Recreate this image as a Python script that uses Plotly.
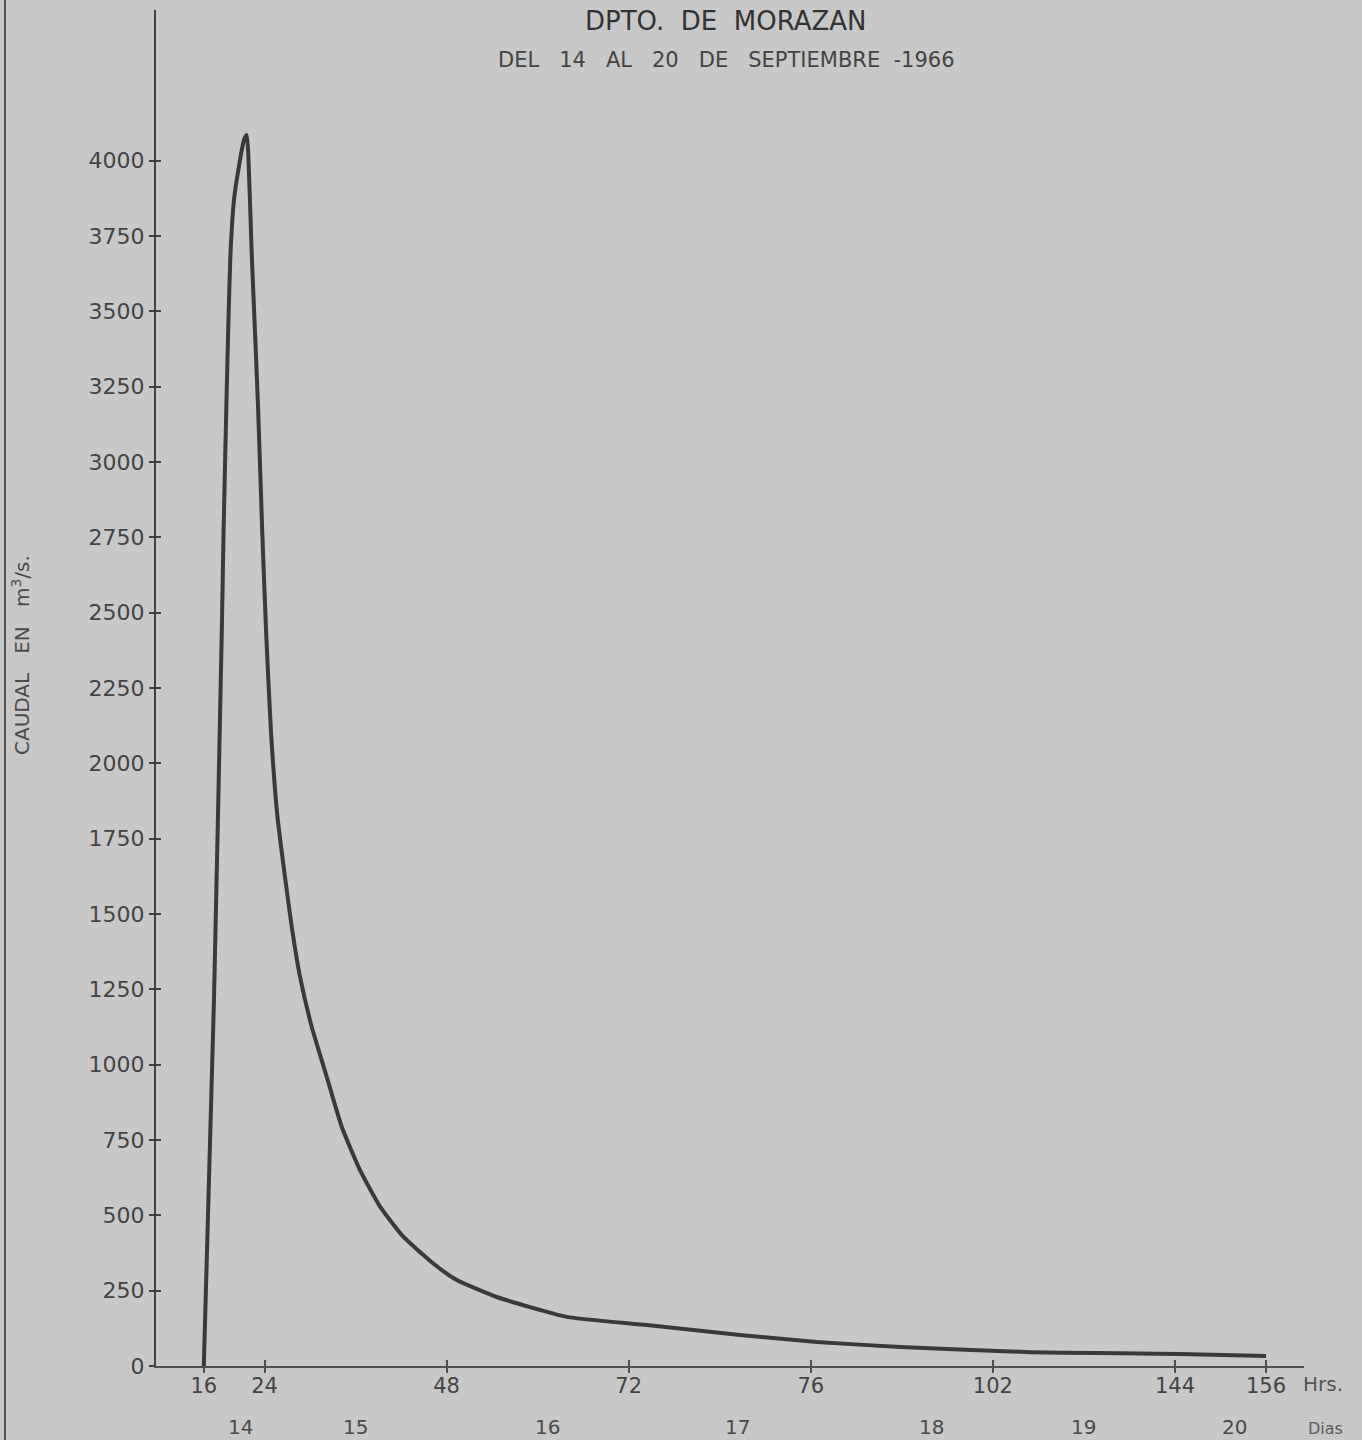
import plotly.graph_objects as go

# Hydrograph data (hours vs. discharge m3/s)
hours = [16.0, 17.34, 18.40, 18.60, 18.99, 19.25, 19.52, 19.98, 20.77, 21.30, 21.65,
         21.86, 22.31, 22.68, 23.14, 23.71, 24.22, 24.86, 25.71, 26.70, 27.59, 28.68,
         30.22, 32.20, 34.18, 36.59, 39.23, 42.30, 46.25, 49.34, 54.61,
         63.84, 74.38, 86.68, 96.79, 107.77, 124.91, 133.70, 144.65, 156.0]
caudal = [0, 1215, 2476, 2764, 3206, 3471, 3694, 3870, 4002, 4069, 4085,
          4025, 3694, 3471, 3189, 2764, 2432, 2101, 1822, 1623, 1458, 1292,
          1126, 960, 794, 650, 529, 429, 340, 285, 229,
          163, 136, 103, 80, 63, 46, 43, 40, 33]

y_ticks = [0, 250, 500, 750, 1000, 1250, 1500, 1750, 2000, 2250, 2500, 2750,
           3000, 3250, 3500, 3750, 4000]
y_ticktext = [str(v) for v in y_ticks]

x_tickvals = [16, 24, 48, 72, 96, 120, 144, 156]
x_ticktext = ["16", "24", "48", "72", "76", "102", "144", "156"]

day_pos = [20.8, 36.0, 61.3, 86.4, 111.9, 132.0, 151.8]
day_labels = ["14", "15", "16", "17", "18", "19", "20"]

XR = [9.7, 161.0]
YR = [0, 4500]

ink = "#444444"
bg = "#c8c8c8"

PW = 1148.0   # plot width in px
PH = 1356.0   # plot height in px
L, T = 156, 10

def px(x):
    return (x - L) / PW

def py(y):
    return 1 - (y - T) / PH

fig = go.Figure()
fig.add_trace(go.Scatter(x=hours, y=caudal, mode="lines",
                         line=dict(color="#3a3a3a", width=4, shape="spline", smoothing=0.5),
                         hoverinfo="skip", showlegend=False))
# invisible trace for the overlay axes (crossing tick marks)
fig.add_trace(go.Scatter(x=[XR[0]], y=[YR[0]], xaxis="x2", yaxis="y2", mode="lines",
                         line=dict(width=0), hoverinfo="skip", showlegend=False))

fig.update_layout(
    width=1362, height=1440,
    paper_bgcolor=bg, plot_bgcolor=bg,
    margin=dict(l=L, r=1362 - L - int(PW), t=T, b=1440 - T - int(PH)),
    xaxis=dict(range=XR, showgrid=False, zeroline=False, showline=True,
               linecolor="#505050", linewidth=2, ticks="outside", ticklen=5,
               tickwidth=1.5, tickcolor="#505050",
               tickmode="array", tickvals=x_tickvals, ticktext=x_ticktext,
               ticklabelstandoff=-5,
               tickfont=dict(family="DejaVu Sans", size=21, color=ink)),
    yaxis=dict(range=YR, showgrid=False, zeroline=False, showline=True,
               linecolor="#404040", linewidth=2, ticks="outside", ticklen=5,
               tickwidth=1.5, tickcolor="#404040",
               tickmode="array", tickvals=y_ticks, ticktext=y_ticktext,
               tickfont=dict(family="DejaVu Sans", size=22, color=ink)),
    xaxis2=dict(range=XR, overlaying="x", showgrid=False, zeroline=False,
                showline=False, ticks="inside", ticklen=6, tickwidth=1.5,
                tickcolor="#505050", tickmode="array",
                tickvals=[v for v in x_tickvals if v != 16],
                showticklabels=False, side="bottom"),
    yaxis2=dict(range=YR, overlaying="y", showgrid=False, zeroline=False,
                showline=False, ticks="inside", ticklen=5, tickwidth=1.5,
                tickcolor="#404040", tickmode="array", tickvals=y_ticks,
                showticklabels=False, side="left"),
)

anns = []
anns.append(dict(text="DPTO.  DE  MORAZAN", xref="paper", yref="paper",
                 x=px(726), y=py(21), xanchor="center", yanchor="middle",
                 showarrow=False, font=dict(family="DejaVu Sans", size=26, color="#333333")))
anns.append(dict(text="DEL   14   AL   20   DE   SEPTIEMBRE  -1966", xref="paper", yref="paper",
                 x=px(726), y=py(60), xanchor="center", yanchor="middle",
                 showarrow=False, font=dict(family="DejaVu Sans", size=21, color="#444444")))
anns.append(dict(text="CAUDAL   EN   m<sup>3</sup>/s.", xref="paper", yref="paper",
                 x=px(21), y=py(655), xanchor="center", yanchor="middle",
                 textangle=-90, showarrow=False,
                 font=dict(family="DejaVu Sans", size=20, color="#4a4a4a")))
anns.append(dict(text="Hrs.", xref="paper", yref="paper",
                 x=px(1301), y=py(1384), xanchor="left", yanchor="middle",
                 showarrow=False, font=dict(family="DejaVu Sans", size=20, color="#555555")))
for p, lab in zip(day_pos, day_labels):
    anns.append(dict(text=lab, x=p, xref="x", yref="paper", y=py(1427),
                     xanchor="center", yanchor="middle", showarrow=False,
                     font=dict(family="DejaVu Sans", size=20, color="#4a4a4a")))
anns.append(dict(text="Dias", xref="paper", yref="paper",
                 x=px(1325), y=py(1428), xanchor="center", yanchor="middle",
                 showarrow=False, font=dict(family="DejaVu Sans", size=16, color="#5a5a5a")))
fig.update_layout(annotations=anns)

# scan border line at the left page edge
fig.add_shape(type="line", xref="paper", yref="paper",
              x0=px(5), x1=px(5), y0=py(0), y1=py(1440),
              line=dict(color="#555555", width=2))

fig.write_html("out.html", config={"displayModeBar": False},
               post_script="document.body.style.margin='0px';document.body.style.background='#c8c8c8';")
